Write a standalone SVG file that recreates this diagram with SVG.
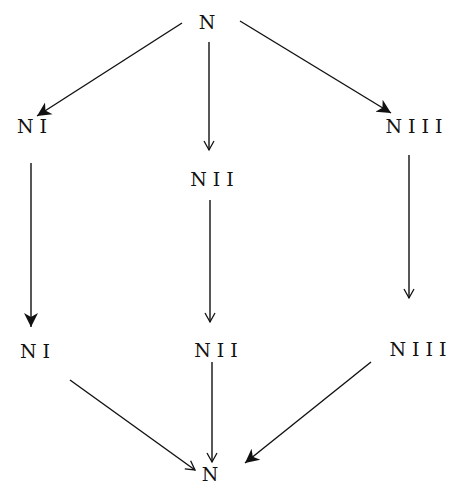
<svg xmlns="http://www.w3.org/2000/svg" width="456" height="489" viewBox="0 0 456 489">
<style>
text{font-family:"DejaVu Serif","Liberation Serif",serif;font-size:19px;fill:#111;text-anchor:middle;letter-spacing:6px}
.e{stroke:#111;stroke-width:1.4;fill:none}
</style>
<defs>
<marker id="open" markerWidth="12" markerHeight="12" refX="10" refY="6" orient="auto" markerUnits="userSpaceOnUse">
<path d="M1,1 L10,6 L1,11" fill="none" stroke="#111" stroke-width="1.3"/>
</marker>
<marker id="heavy" markerWidth="16" markerHeight="16" refX="14" refY="8" orient="auto" markerUnits="userSpaceOnUse">
<path d="M0,1 L14,8 L0,15 L4,8 Z" fill="#111"/>
</marker>
</defs>
<rect width="456" height="489" fill="#fff"/>
<g id="connectors">
<line class="e" x1="182" y1="23" x2="37" y2="116" marker-end="url(#heavy)"/>
<line class="e" x1="209" y1="42" x2="209" y2="150" marker-end="url(#open)"/>
<line class="e" x1="240" y1="21" x2="391" y2="113" marker-end="url(#heavy)"/>
<line class="e" x1="31" y1="163" x2="31" y2="327" marker-end="url(#heavy)"/>
<line class="e" x1="210" y1="200" x2="210" y2="322" marker-end="url(#open)"/>
<line class="e" x1="409" y1="155" x2="409" y2="298" marker-end="url(#open)"/>
<line class="e" x1="70" y1="380" x2="195" y2="470" marker-end="url(#open)"/>
<line class="e" x1="212" y1="362" x2="212" y2="462" marker-end="url(#open)"/>
<line class="e" x1="371" y1="362" x2="245" y2="463" marker-end="url(#heavy)"/>
</g>
<g id="n-top"><text x="210" y="29">N</text></g>
<g id="ni-1"><text x="35" y="133">NI</text></g>
<g id="nii-1"><text x="215" y="186">NII</text></g>
<g id="niii-1"><text x="417" y="133">NIII</text></g>
<g id="ni-2"><text x="38" y="358">NI</text></g>
<g id="nii-2"><text x="219" y="357">NII</text></g>
<g id="niii-2"><text x="421" y="356">NIII</text></g>
<g id="n-bottom"><text x="213" y="481">N</text></g>
</svg>
